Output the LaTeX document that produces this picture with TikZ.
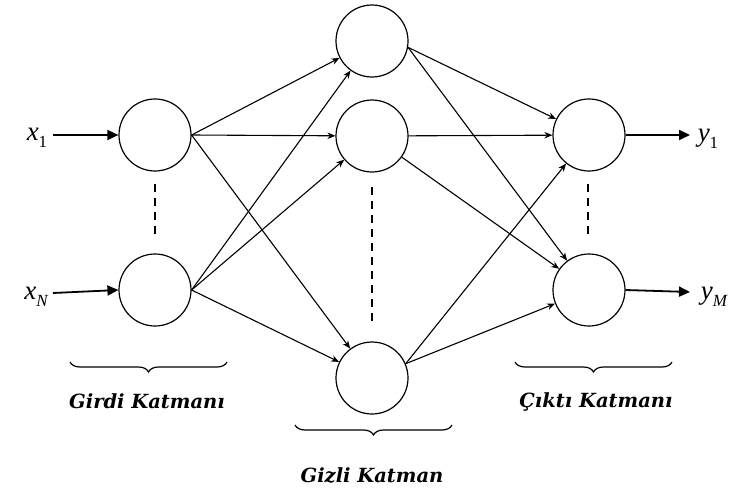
\documentclass[tikz,border=0pt]{standalone}
\usepackage{fontspec}
\setmainfont{DejaVu Serif}
\newfontfamily\lblfont{Liberation Serif}
\usetikzlibrary{arrows.meta,decorations.pathreplacing}
\begin{document}
\begin{tikzpicture}[x=1pt,y=-1pt,
  neuron/.style={circle,draw,line width=1.2pt,minimum size=72pt,inner sep=0pt},
  edge/.style={line width=1.1pt,-{Stealth[length=8pt 0,width=6.5pt 0]}},
  io/.style={line width=1.8pt,-{Triangle[length=11pt 0,width=10pt 0]}},
  dots/.style={line width=1.3pt,dash pattern=on 8pt off 6pt},
  layerbrace/.style={line width=1.2pt,decorate,decoration={brace,mirror,amplitude=10pt}},
  layertext/.style={font=\fontsize{19.5}{22}\selectfont\bfseries\itshape,anchor=base},
  vlabel/.style={font=\lblfont\fontsize{27}{30}\selectfont\itshape,anchor=base}]
\useasboundingbox (0,0) rectangle (732,493);
% neurons
\node[neuron] (I1) at (155,135) {};
\node[neuron] (I2) at (155,290) {};
\node[neuron] (H1) at (372,41) {};
\node[neuron] (H2) at (372,136) {};
\node[neuron] (H3) at (372,378) {};
\node[neuron] (O1) at (589,135) {};
\node[neuron] (O2) at (589,290) {};
% input/output labels
\node[vlabel] (x1) at (37,140) {x\raisebox{-0.28em}{\fontsize{17}{19}\selectfont\upshape 1}};
\node[vlabel] (xN) at (36,299) {x\raisebox{-0.28em}{\fontsize{17}{19}\selectfont N}};
\node[vlabel] (y1) at (708,141) {y\raisebox{-0.28em}{\fontsize{17}{19}\selectfont\upshape 1}};
\node[vlabel] (yM) at (714,299) {y\raisebox{-0.28em}{\fontsize{17}{19}\selectfont M}};
\coordinate (x1e) at (53,135);
\coordinate (xNe) at (53,293);
\coordinate (y1s) at (690,135);
\coordinate (yMs) at (690,292);
\draw[io] (x1e) -- (I1.west);
\draw[io] (xNe) -- (I2.west);
\draw[io] (O1.east) -- (y1s);
\draw[io] (O2.east) -- (yMs);
% connections
\foreach \t in {H1,H2,H3} {
  \draw[edge] (I1.east) -- (\t);
  \draw[edge] (I2.east) -- (\t);
}
\foreach \t in {O1,O2} {
  \draw[edge] (H1.-10) -- (\t);
  \draw[edge] (H2) -- (\t);
  \draw[edge] (H3.23) -- (\t);
}
% dashed
\coordinate (d1a) at (155,184); \coordinate (d1b) at (155,234);
\coordinate (d2a) at (372,187); \coordinate (d2b) at (372,322);
\coordinate (d3a) at (588,184); \coordinate (d3b) at (588,234);
\draw[dots] (d1a) -- (d1b);
\draw[dots] (d2a) -- (d2b);
\draw[dots] (d3a) -- (d3b);
% braces
\coordinate (b1a) at (70,362); \coordinate (b1b) at (227,362);
\coordinate (b2a) at (295,425); \coordinate (b2b) at (452,425);
\coordinate (b3a) at (515,362); \coordinate (b3b) at (672,362);
\draw[layerbrace] (b1a) -- (b1b);
\draw[layerbrace] (b2a) -- (b2b);
\draw[layerbrace] (b3a) -- (b3b);
\node[layertext] (t1) at (147,408) {Girdi Katmanı};
\node[layertext] (t2) at (372,482) {Gizli Katman};
\node[layertext] (t3) at (596,407) {Çıktı Katmanı};
\end{tikzpicture}
\end{document}
